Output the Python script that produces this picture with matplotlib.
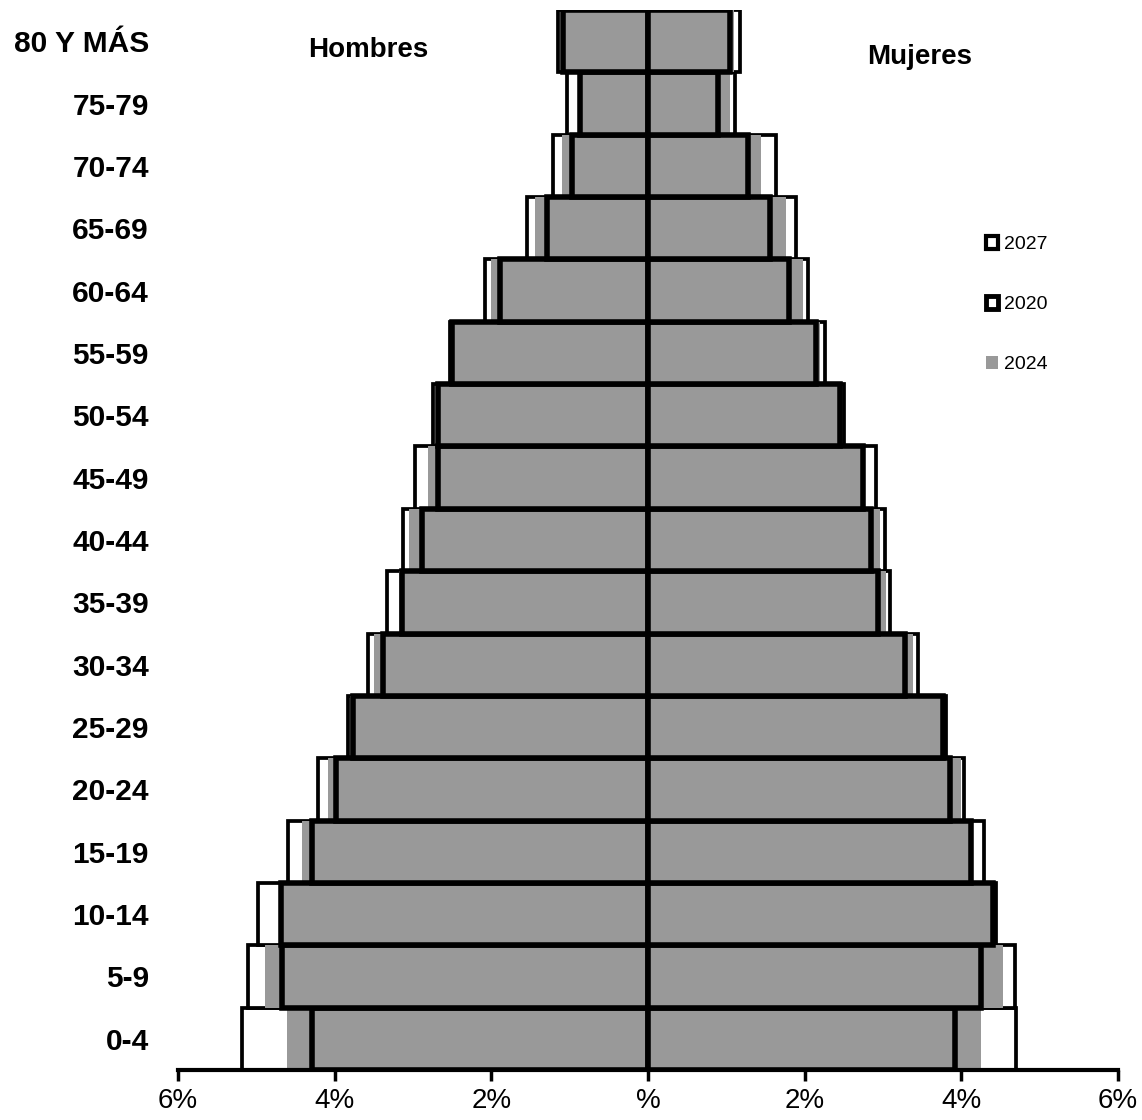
import matplotlib
matplotlib.use("Agg")
import matplotlib.pyplot as plt
import numpy as np
from matplotlib.patches import Patch

plt.rcParams['font.family'] = ['Liberation Sans', 'DejaVu Sans']

age_groups = ["0-4", "5-9", "10-14", "15-19", "20-24", "25-29", "30-34", "35-39",
              "40-44", "45-49", "50-54", "55-59", "60-64", "65-69", "70-74", "75-79", "80 Y MÁS"]

# Hombres (men), percent of population
men_2027 = [5.18, 5.11, 4.98, 4.59, 4.21, 3.83, 3.57, 3.33, 3.13, 2.97, 2.75, 2.53, 2.08, 1.55, 1.21, 1.04, 1.15]
men_2024 = [4.61, 4.89, 4.68, 4.42, 4.08, 3.80, 3.50, 3.18, 3.05, 2.81, 2.70, 2.52, 2.00, 1.44, 1.10, 0.86, 1.10]
men_2020 = [4.29, 4.67, 4.69, 4.29, 3.98, 3.77, 3.38, 3.14, 2.89, 2.68, 2.68, 2.50, 1.89, 1.29, 0.97, 0.87, 1.08]

# Mujeres (women), percent of population
women_2027 = [4.70, 4.69, 4.44, 4.29, 4.04, 3.80, 3.45, 3.09, 3.02, 2.91, 2.50, 2.26, 2.04, 1.89, 1.64, 1.11, 1.17]
women_2024 = [4.25, 4.53, 4.42, 4.15, 3.99, 3.78, 3.38, 3.04, 2.96, 2.76, 2.47, 2.20, 1.98, 1.76, 1.44, 1.05, 1.10]
women_2020 = [3.92, 4.25, 4.41, 4.12, 3.86, 3.76, 3.28, 2.94, 2.85, 2.74, 2.45, 2.15, 1.80, 1.56, 1.28, 0.89, 1.05]

xticks = [-6, -4, -2, 0, 2, 4, 6]
xtick_labels = ["6%", "4%", "2%", "%", "2%", "4%", "6%"]

GRAY = "#999999"

fig = plt.figure(figsize=(11.42, 11.2), dpi=100)
ax = fig.add_axes([178/1142, 50/1120, 940/1142, 1060/1120])

y = np.arange(len(age_groups))

# 2027: white with black outline
ax.barh(y, [-v for v in men_2027], height=1.0, color="white", edgecolor="black", linewidth=2.7, zorder=2)
ax.barh(y, women_2027, height=1.0, color="white", edgecolor="black", linewidth=2.7, zorder=2)
# 2024: gray, no outline
ax.barh(y, [-v for v in men_2024], height=1.0, color=GRAY, edgecolor="none", linewidth=0, zorder=3)
ax.barh(y, women_2024, height=1.0, color=GRAY, edgecolor="none", linewidth=0, zorder=3)
# 2020: gray with thick black outline
ax.barh(y, [-v for v in men_2020], height=1.0, color=GRAY, edgecolor="black", linewidth=4, zorder=4)
ax.barh(y, women_2020, height=1.0, color=GRAY, edgecolor="black", linewidth=4, zorder=4)

ax.set_xlim(-6, 6)
ax.set_ylim(-0.5, len(age_groups) - 0.5)

ax.set_xticks(xticks)
ax.set_xticklabels(xtick_labels, fontsize=20)
ax.set_yticks(y)
ax.set_yticklabels(age_groups, fontsize=21.5, fontweight="bold")
ax.tick_params(axis="y", length=0, pad=21)
ax.tick_params(axis="x", length=8, width=2.5, direction="out", pad=5)

for s in ["left", "right", "top"]:
    ax.spines[s].set_visible(False)
ax.spines["bottom"].set_linewidth(3)
ax.spines["bottom"].set_zorder(6)

ax.text(-3.57, 15.86, "Hombres", fontsize=20, fontweight="bold", ha="center", va="center")
ax.text(3.47, 15.75, "Mujeres", fontsize=20, fontweight="bold", ha="center", va="center")

handles = [
    Patch(facecolor="white", edgecolor="black", linewidth=3, label="2027"),
    Patch(facecolor="white", edgecolor="black", linewidth=3.5, label="2020"),
    Patch(facecolor=GRAY, edgecolor="none", label="2024"),
]
fig.legend(handles=handles, loc="upper left", bbox_to_anchor=(978/1142, 1 - 228/1120),
           frameon=False, fontsize=14, handlelength=0.65, handleheight=0.65,
           handletextpad=0.3, labelspacing=2.2, borderaxespad=0)

fig.savefig("out.png", dpi=100)
